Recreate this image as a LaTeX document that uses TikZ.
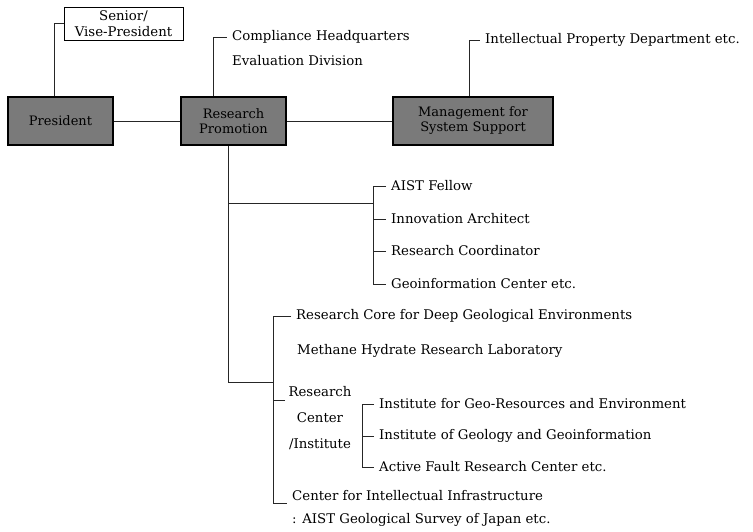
\documentclass[tikz,border=0pt]{standalone}
\usepackage{fontspec}
\setmainfont{DejaVu Serif}
\usetikzlibrary{positioning}
\tikzset{
  obox/.style={draw=black, line width=1.3pt, fill=black!52, minimum width=105pt,
    minimum height=48pt, align=center, inner sep=1pt, text=black,
    font=\fontsize{13}{15}\selectfont},
  vpbox/.style={draw=black, line width=0.7pt, fill=white, minimum width=119pt,
    minimum height=33pt, align=center, inner sep=1pt,
    font=\fontsize{13.3}{16}\selectfont},
  lbl/.style={anchor=west, inner xsep=5pt, inner ysep=1pt,
    font=\fontsize{13.3}{15}\selectfont},
  conn/.style={line width=0.7pt, black!85},
}

\begin{document}
\begin{tikzpicture}[x=1pt, y=-1pt]
  \useasboundingbox (0,0) rectangle (753,532);
  % top row
  \node[obox] (pres) at (60.5,121) {President};
  \node[obox] (rp) at (233.5,121) {Research\\Promotion};
  \node[obox, minimum width=160pt] (msup) at (473,121) {Management for\\System Support};
  \node[vpbox] (svp) at (123.5,23.5) {Senior/\\Vise-President};
  \node[lbl] (comp) at (227,37) {Compliance Headquarters};
  \node[lbl] (eval) at (227,61) {Evaluation Division};
  \node[lbl] (ipd) at (480,40) {Intellectual Property Department etc.};
  \draw[conn] ([xshift=-6.5pt]pres.north) |- (svp.west);
  \draw[conn] ([xshift=-20pt]rp.north) |- (comp.west);
  \draw[conn] ([xshift=-4pt]msup.north) |- (ipd.west);
  \draw[conn] (pres.east) -- (rp.west);
  \draw[conn] (rp.east) -- (msup.west);
  % staff group
  \node[lbl] (fel) at (386,186) {AIST Fellow};
  \node[lbl] (inv) at (386,219) {Innovation Architect};
  \node[lbl] (rco) at (386,251) {Research Coordinator};
  \node[lbl] (gic) at (386,284) {Geoinformation Center etc.};
  \coordinate (b1) at (373,284);
  \coordinate (j1) at (228,203);
  \draw[conn] (fel.west) -| (b1) -- (gic.west);
  \draw[conn] (inv.west) -- (inv.west -| b1);
  \draw[conn] (rco.west) -- (rco.west -| b1);
  \draw[conn] (j1) -- (j1 -| b1);
  % research units
  \node[lbl] (core) at (291,316) {Research Core for Deep Geological Environments};
  \node[lbl] (mhr) at (292,351) {Methane Hydrate Research Laboratory};
  \node[align=center, inner sep=1pt, font=\fontsize{13.3}{26}\selectfont]
    (rci) at (320,418) {Research\\Center\\/Institute};
  \node[lbl] (igr) at (374,404) {Institute for Geo-Resources and Environment};
  \node[lbl] (igg) at (374,436) {Institute of Geology and Geoinformation};
  \node[lbl] (afr) at (374,467) {Active Fault Research Center etc.};
  \node[lbl] (cii) at (287,496) {Center for Intellectual Infrastructure};
  \node[lbl] (gsj) at (287,520) {: AIST Geological Survey of Japan etc.};
  \coordinate (b2) at (273,503);
  \coordinate (b3) at (362,467);
  \coordinate (j2) at (273,382);
  \coordinate (rct) at (285,400);
  \draw[conn] ([xshift=-5.5pt]rp.south) |- (j2);
  \draw[conn] (core.west) -| (b2) -- (b2 -| cii.west);
  \draw[conn] (rct) -- (rct -| b2);
  \draw[conn] (igr.west) -| (b3) -- (afr.west);
  \draw[conn] (igg.west) -- (igg.west -| b3);
\end{tikzpicture}
\end{document}
